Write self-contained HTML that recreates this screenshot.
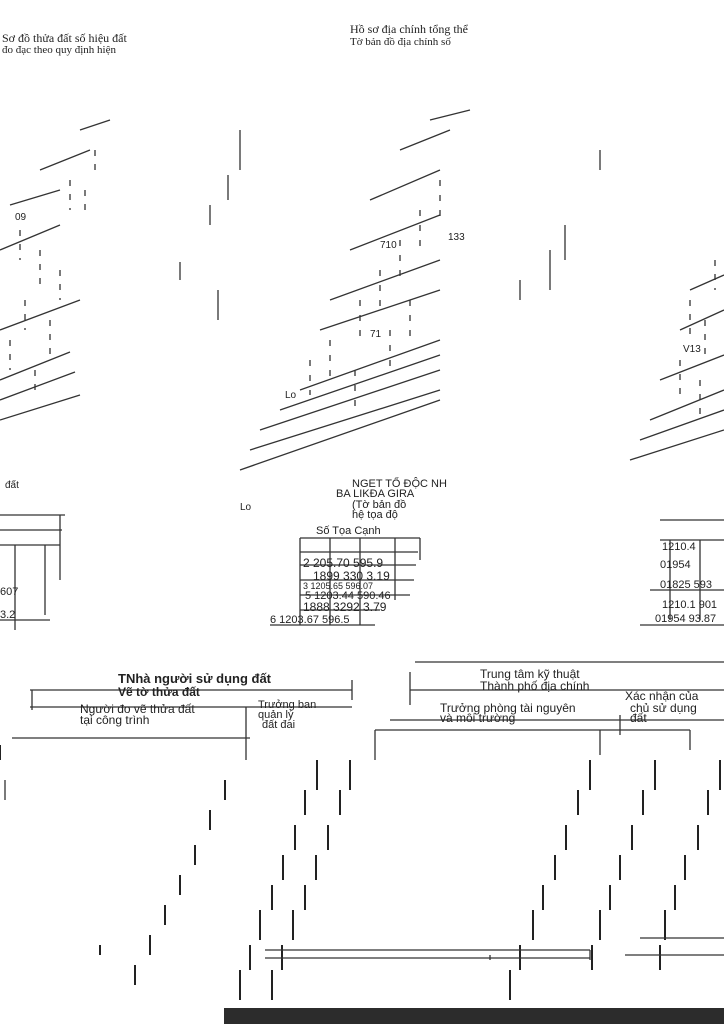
<!DOCTYPE html>
<html><head><meta charset="utf-8"><style>
html,body{margin:0;padding:0;background:#fff}
svg{display:block}
text{font-family:"Liberation Sans",sans-serif;fill:#222}
.s{font-family:"Liberation Serif",serif}
</style></head><body>
<svg width="724" height="1024" viewBox="0 0 724 1024" xmlns="http://www.w3.org/2000/svg">
<rect width="724" height="1024" fill="#fff"/>
<g font-size="12" class="s">
<text x="2" y="42" class="s">Sơ đồ thửa đất số hiệu đất</text>
<text x="2" y="53" class="s" font-size="11">đo đạc theo quy định hiện</text>
<text x="350" y="33" class="s">Hồ sơ địa chính tổng thể</text>
<text x="350" y="45" class="s" font-size="11">Tờ bản đồ địa chính số</text>
</g>
<g stroke="#333" stroke-width="1.3" fill="none">
<path d="M0 420 L80 395 M0 400 L75 372 M0 380 L70 352 M0 330 L80 300 M0 250 L60 225 M10 205 L60 190 M40 170 L90 150 M80 130 L110 120"/>
<path d="M20 230 V260 M40 250 V290 M60 270 V300 M25 300 V330 M50 320 V355 M70 180 V210 M95 150 V175 M85 190 V215 M10 340 V370 M35 370 V395" stroke-dasharray="6 8"/>
<path d="M240 130 V170 M228 175 V200 M210 205 V225 M180 262 V280 M218 290 V320"/>
<path d="M240 470 L440 400 M250 450 L440 390 M260 430 L440 370 M280 410 L440 355 M300 390 L440 340 M320 330 L440 290 M330 300 L440 260 M350 250 L440 215 M370 200 L440 170 M400 150 L450 130 M430 120 L470 110"/>
<path d="M310 360 V395 M330 340 V380 M360 300 V340 M380 270 V310 M400 240 V280 M420 210 V250 M440 180 V220 M410 300 V340 M390 330 V370 M355 370 V410" stroke-dasharray="6 9"/>
<path d="M600 150 V170 M565 225 V260 M550 250 V290 M520 280 V300"/>
<path d="M630 460 L724 430 M640 440 L724 410 M650 420 L724 390 M660 380 L724 355 M680 330 L724 310 M690 290 L724 275"/>
<path d="M690 300 V340 M705 320 V360 M680 360 V400 M700 380 V420 M715 260 V290" stroke-dasharray="6 8"/>
<path d="M0 515 H65 M0 530 H62 M0 545 H60 M0 620 H50 M60 515 V580 M45 545 V615 M15 545 V630"/>
<path d="M300 538 H420 M300 552 H418 M300 565 H416 M300 580 H414 M300 595 H410 M300 610 H380 M270 625 H375 M300 538 V625 M330 538 V625 M360 538 V625 M395 538 V600 M420 538 V560"/>
<path d="M660 520 H724 M660 540 H724 M650 590 H724 M640 625 H724 M670 540 V620 M700 540 V620"/>
<path d="M30 690 H352 M30 707 H352 M32 690 V710 M352 680 V700 M12 738 H250 M246 707 V760 M5 780 V800"/>
<path d="M415 662 H724 M410 672 V705 M410 690 H724 M390 720 H724 M620 715 V735 M375 730 H690 M375 730 V760 M600 730 V755 M690 730 V750"/>
</g>
<g stroke="#222" stroke-width="2">
<path d="M225 780 V800 M210 810 V830 M195 845 V865 M180 875 V895 M165 905 V925 M150 935 V955 M135 965 V985 M100 945 V955 M0 745 V760"/>
<path d="M317 760 V790 M305 790 V815 M295 825 V850 M283 855 V880 M272 885 V910 M260 910 V940 M250 945 V970 M240 970 V1000"/>
<path d="M350 760 V790 M340 790 V815 M328 825 V850 M316 855 V880 M305 885 V910 M293 910 V940 M282 945 V970 M272 970 V1000"/>
<path d="M590 760 V790 M578 790 V815 M566 825 V850 M555 855 V880 M543 885 V910 M533 910 V940 M520 945 V970 M510 970 V1000"/>
<path d="M655 760 V790 M643 790 V815 M632 825 V850 M620 855 V880 M610 885 V910 M600 910 V940 M592 945 V970"/>
<path d="M720 760 V790 M708 790 V815 M698 825 V850 M685 855 V880 M675 885 V910 M665 910 V940 M660 945 V970"/>
</g>
<g stroke="#333" stroke-width="1.3" fill="none">
<path d="M265 950 H590 M265 958 H590 M490 955 V960 M590 950 V960 M640 938 H724 M625 955 H724"/>
</g>
<g font-size="10">
<text x="15" y="220">09</text><text x="380" y="248">710</text><text x="448" y="240">133</text>
<text x="370" y="337">71</text><text x="285" y="398">Lo</text><text x="683" y="352">V13</text>
<text x="240" y="510">Lo</text><text x="5" y="488">đất</text>
</g>
<g font-size="11">
<text x="352" y="487">NGET TỔ ĐỘC NH</text>
<text x="336" y="497">BA LIKĐA GIRA</text>
<text x="352" y="508">(Tờ bản đồ</text>
<text x="352" y="518">hệ tọa độ</text>
<text x="316" y="534">Số   Tọa   Cạnh</text>
<text x="303" y="567" font-size="12">2 205.70 595.9</text>
<text x="313" y="580" font-size="12">1899  330  3.19</text>
<text x="303" y="589" font-size="9">3 1205.65 596.07</text>
<text x="305" y="599" font-size="11">5 1203.44 590.46</text>
<text x="303" y="611" font-size="12">1888  3292  3.79</text>
<text x="270" y="623" font-size="11">6 1203.67 596.5</text>
<text x="662" y="550">1210.4</text><text x="660" y="568">01954</text><text x="660" y="588">01825 593</text>
<text x="662" y="608">1210.1 901</text><text x="655" y="622">01954 93.87</text>
<text x="0" y="595">607</text><text x="0" y="618">3.2</text>
</g>
<g class="s" font-size="13" font-weight="bold">
<text x="118" y="683">TNhà người sử dụng đất</text>
<text x="118" y="696" font-size="12">Vẽ tờ thửa đất</text>
<text x="80" y="713" font-size="12" font-weight="normal">Người đo vẽ thửa đất</text>
<text x="80" y="724" font-size="12" font-weight="normal">tại công trình</text>
<text x="258" y="708" font-size="11" font-weight="normal">Trưởng ban</text>
<text x="258" y="718" font-size="11" font-weight="normal">quản lý</text>
<text x="262" y="728" font-size="11" font-weight="normal">đất đai</text>
<text x="480" y="678" font-size="12" font-weight="normal">Trung tâm kỹ thuật</text>
<text x="480" y="690" font-size="12" font-weight="normal">Thành phố địa chính</text>
<text x="440" y="712" font-size="12" font-weight="normal">Trưởng phòng tài nguyên</text>
<text x="440" y="722" font-size="12" font-weight="normal">và môi trường</text>
<text x="625" y="700" font-size="12" font-weight="normal">Xác nhận của</text>
<text x="630" y="712" font-size="12" font-weight="normal">chủ sử dụng</text>
<text x="630" y="722" font-size="12" font-weight="normal">đất</text>
</g>
<rect x="224" y="1008" width="500" height="16" fill="#2c2c2c"/>
</svg>
</body></html>
